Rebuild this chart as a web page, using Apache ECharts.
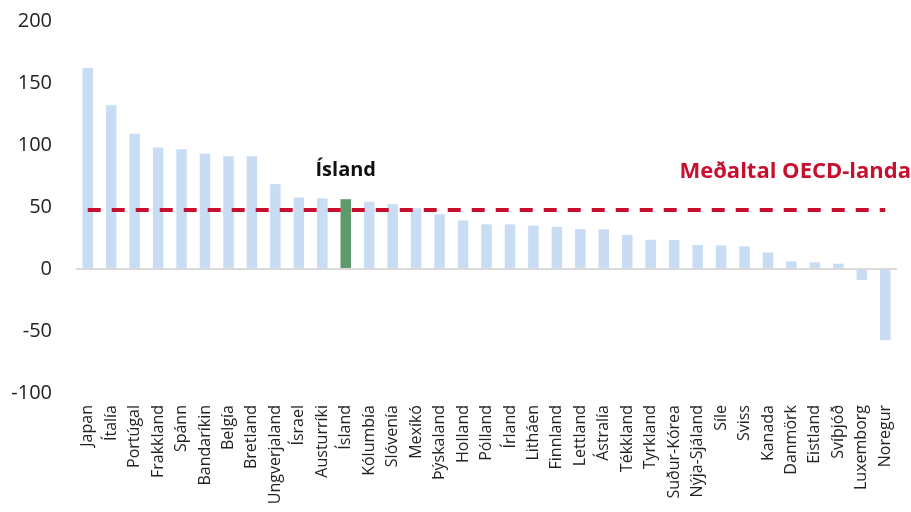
<!DOCTYPE html>
<html lang="is">
<head>
    <meta charset="UTF-8">
    <title>OECD samanburður</title>
    <script src="https://cdn.jsdelivr.net/npm/echarts@6/dist/echarts.min.js"></script>
    <style>
        html, body { margin: 0; height: 100%; background: #fff; }
        #main { width: 911px; height: 512px; }
    </style>
</head>
<body>
<div id="main"></div>
<script>
    // gögn lesin af myndinni
    var countries = ['Japan', 'Ítalía', 'Portúgal', 'Frakkland', 'Spánn', 'Bandaríkin', 'Belgía', 'Bretland',
        'Ungverjaland', 'Ísrael', 'Austurríki', 'Ísland', 'Kólumbía', 'Slóvenía', 'Mexíkó', 'Þýskaland',
        'Holland', 'Pólland', 'Írland', 'Litháen', 'Finnland', 'Lettland', 'Ástralía', 'Tékkland', 'Tyrkland',
        'Suður-Kórea', 'Nýja-Sjáland', 'Síle', 'Sviss', 'Kanada', 'Danmörk', 'Eistland', 'Svíþjóð',
        'Luxemborg', 'Noregur'];
    var values = [162, 132, 109, 98, 96.5, 93, 91, 91, 68.5, 57.7, 57, 56.3, 54.2, 52.3, 49, 44.2,
        39.2, 36, 36, 35, 34, 32.2, 32, 27.4, 23.6, 23.3, 19.3, 19, 18.3, 13.4, 6.2, 5.4, 4.3,
        -8.8, -57.4];
    var oecdAvg = 47.5;
    var highlight = 'Ísland';
    var yTicks = { min: -100, max: 200, step: 50 };

    var barData = values.map(function (v, i) {
        if (countries[i] !== highlight) return v;
        return {
            value: v,
            itemStyle: { color: '#5E9A6B' },
            label: {
                show: true,
                position: 'top',
                distance: 19,
                formatter: highlight,
                fontFamily: 'Open Sans',
                fontWeight: 'bold',
                fontSize: 20,
                color: '#111'
            }
        };
    });

    var option = {
        animation: false,
        grid: { left: 76, right: 14, top: 21, bottom: 119 },
        xAxis: {
            type: 'category',
            data: countries,
            axisLine: { show: false },
            axisTick: { show: false },
            axisLabel: {
                rotate: 90,
                interval: 0,
                margin: 12,
                fontFamily: 'Open Sans',
                fontSize: 16,
                color: '#222'
            }
        },
        yAxis: {
            type: 'value',
            min: yTicks.min,
            max: yTicks.max,
            interval: yTicks.step,
            splitLine: { show: false },
            axisLine: { show: false },
            axisTick: { show: false },
            axisLabel: {
                margin: 24,
                fontFamily: 'Open Sans',
                fontSize: 20,
                color: '#222'
            }
        },
        graphic: [{
            type: 'text',
            right: 0,
            top: 161,
            style: {
                text: 'Meðaltal OECD-landa',
                fontFamily: 'Open Sans',
                fontWeight: 'bold',
                fontSize: 22,
                fill: '#C8102E'
            }
        }],
        series: [{
            type: 'bar',
            data: barData,
            barWidth: 10.5,
            itemStyle: { color: '#C8DDF4' },
            markLine: {
                silent: true,
                symbol: 'none',
                label: { show: false },
                data: [
                    { yAxis: 0, lineStyle: { color: '#D9D9D9', width: 2, type: 'solid' } },
                    [
                        { coord: [countries[0], oecdAvg], lineStyle: { color: '#C8102E', width: 4, type: [13, 11] } },
                        { coord: [countries[countries.length - 1], oecdAvg] }
                    ]
                ]
            }
        }]
    };

    var myChart = echarts.init(document.getElementById('main'));
    myChart.setOption(option);
</script>
</body>
</html>
